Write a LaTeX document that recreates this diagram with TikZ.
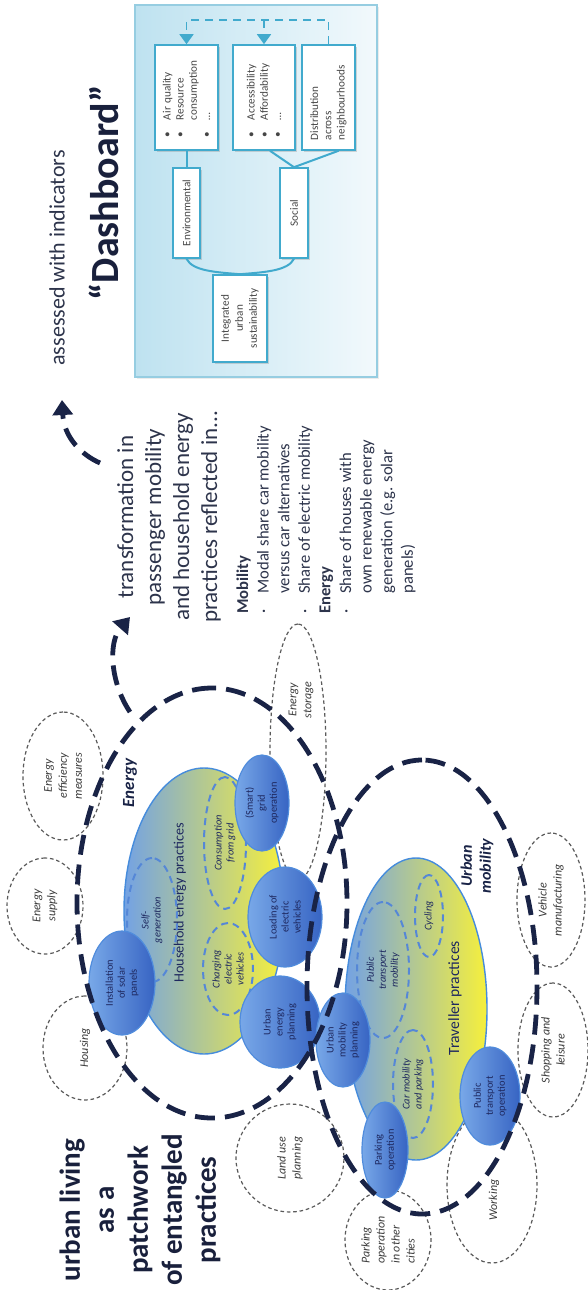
\documentclass[tikz,border=0pt]{standalone}
\usepackage{fontspec}
\setmainfont{Carlito}
\usetikzlibrary{shapes.geometric,arrows.meta,shadows}
\definecolor{navy}{RGB}{25,35,70}
\definecolor{titlec}{RGB}{25,32,60}
\definecolor{bodyc}{RGB}{45,52,75}
\definecolor{pracA}{RGB}{120,168,232}
\definecolor{pracB}{RGB}{55,100,195}
\definecolor{pracline}{RGB}{80,140,220}
\definecolor{pracText}{RGB}{30,40,95}
\definecolor{subblue}{RGB}{85,135,215}
\definecolor{hhBlue}{RGB}{115,162,228}
\definecolor{hhMid}{RGB}{172,205,210}
\definecolor{hhYellow}{RGB}{246,240,60}
\definecolor{hhLine}{RGB}{70,140,220}
\definecolor{txtgray}{RGB}{60,60,60}
\definecolor{grayline}{RGB}{90,90,90}
\definecolor{dbline}{RGB}{65,170,205}
\definecolor{dbtext}{RGB}{70,70,70}
\definecolor{dbframe}{RGB}{150,205,225}
\definecolor{dbA}{RGB}{190,226,240}
\definecolor{dbB}{RGB}{242,249,252}
\tikzset{
  grayell/.style={ellipse, draw=grayline, line width=0.6pt, dash pattern=on 1.8pt off 1.4pt, rotate=90, inner sep=0pt, align=center, font=\fontsize{6}{7.5}\selectfont\itshape, text=txtgray},
  practice/.style={ellipse, draw=pracline, line width=0.6pt, left color=pracA, right color=pracB, rotate=90, inner sep=0pt, align=center, font=\fontsize{5.2}{6}\selectfont, text=pracText},
  subell/.style={ellipse, draw=subblue, line width=1pt, dash pattern=on 3.5pt off 2.5pt, rotate=90, inner sep=0pt, align=center, font=\fontsize{5.2}{6}\selectfont\itshape, text=pracText},
  bigdash/.style={draw=navy, line width=2.4pt, dash pattern=on 10pt off 5pt},
  bigring/.style={ellipse, bigdash, rotate=90, inner sep=0pt},
  dbox/.style={rectangle, draw=dbline, fill=white, line width=0.8pt, rotate=90, inner sep=0pt, font=\fontsize{5.6}{6.6}\selectfont, text=dbtext, drop shadow={shadow xshift=1.2pt, shadow yshift=-1pt, opacity=0.3}},
  conn/.style={draw=dbline, line width=1pt},
  fbdash/.style={draw=dbline, line width=0.8pt, dash pattern=on 4pt off 3pt, -{Triangle[length=5pt,width=7pt]}},
  bigarrow/.style={bigdash, -{Triangle[length=7.5pt,width=10pt]}},
  lbl/.style={rotate=90, inner sep=0pt}
}
\newcommand{\bul}{\makebox[8.5pt][l]{•}}
\begin{document}
\begin{tikzpicture}[x=0.5pt,y=-0.5pt]
\useasboundingbox (0,0) rectangle (588,1290);
\fill[white] (0,0) rectangle (588,1290);

% ---------------- dashboard ----------------
\node[rectangle, draw=dbframe, line width=1.2pt, left color=dbA, right color=dbB, minimum width=121pt, minimum height=186pt, inner sep=0pt, drop shadow={shadow xshift=1pt, shadow yshift=-1pt, opacity=0.15}] (dash) at (256,191) {};
\node[dbox, minimum width=52.5pt, minimum height=31.5pt, text width=39.5pt, align=left] (aq) at (186.5,97.5)
  {\bul Air quality\\\bul Resource\\\hspace*{8.5pt}consumption\\\bul …};
\node[dbox, minimum width=52.5pt, minimum height=31pt, text width=39.5pt, align=left] (acc) at (264,97.5)
  {\bul Accessibility\\\bul Affordability\\\bul …};
\node[dbox, minimum width=52.5pt, minimum height=26.5pt, text width=42.5pt, align=left] (dist) at (328.5,97.5)
  {Distribution\\across\\neighbourhoods};
\node[dbox, minimum width=45pt, minimum height=13.5pt, align=center] (env) at (186.5,213) {Environmental};
\node[dbox, minimum width=45pt, minimum height=14pt, align=center] (soc) at (294,213) {Social};
\node[dbox, minimum width=43.5pt, minimum height=27pt, align=center, font=\fontsize{5.6}{7}\selectfont] (int) at (240,318.5) {Integrated\\urban\\sustainability};
\coordinate (fbline) at (0,20);
\draw[conn] (aq.west) -- (env.east);
\draw[conn] ([xshift=3pt]acc.west) -- (soc.east);
\draw[conn] ([xshift=5pt]dist.west) -- (soc.east);
\draw[conn] (env.west) .. controls +(6,12) and +(-25,-2) .. (int.east);
\draw[conn] (soc.west) .. controls +(-6,12) and +(25,-2) .. (int.east);
\draw[fbdash] (dist.east) -- (dist.east |- fbline) -- (aq.east |- fbline) -- (aq.east);
\draw[fbdash] (acc.east |- fbline) -- (acc.east);

% ---------------- text blocks ----------------
\node[lbl, font=\fontsize{11}{13}\selectfont, text=bodyc] (assess) at (57,258) {assessed with indicators};
\node[lbl, font=\fontsize{20}{22}\selectfont\bfseries, text=titlec] (dashtitle) at (104,193) {“Dashboard”};
\node[lbl, align=center, font=\fontsize{11.5}{14}\selectfont, text=bodyc] (trans) at (169,517)
  {transformation in\\passenger mobility\\and household energy\\practices reflected in...};
\node[lbl, anchor=north west, align=left, font=\fontsize{8.3}{10.3}\selectfont, text=bodyc] (ind) at (236,614)
  {\textbf{Mobility}\\\makebox[10pt][l]{·}Modal share car mobility\\\hspace*{10pt}versus car alternatives\\\makebox[10pt][l]{·}Share of electric mobility\\\textbf{Energy}\\\makebox[10pt][l]{·}Share of houses with\\\hspace*{10pt}own renewable energy\\\hspace*{10pt}generation (e.g. solar\\\hspace*{10pt}panels)};
\node[lbl, align=center, font=\fontsize{14.5}{17}\selectfont\bfseries, text=titlec] (urban) at (140,1210)
  {urban living\\as a\\patchwork\\of entangled\\practices};

% ---------------- gray dashed context ellipses ----------------
\node[grayell, minimum width=64pt, minimum height=40pt] (effic) at (63,776) {Energy\\efficiency\\measures};
\node[grayell, minimum width=48pt, minimum height=38pt] (supply) at (45,906) {Energy\\supply};
\node[grayell, minimum width=52pt, minimum height=42pt] (housing) at (85,1048) {Housing};
\node[grayell, minimum width=54pt, minimum height=54pt] (landuse) at (290,1158) {Land use\\planning};
\node[grayell, minimum width=50pt, minimum height=43pt, align=left] (parkother) at (388,1240) {Parking\\operation\\in other\\cities};
\node[grayell, minimum width=78pt, minimum height=45pt] (working) at (492,1185) {};
\node[lbl, font=\fontsize{6}{7.5}\selectfont\itshape, text=txtgray] (worktxt) at (494,1200) {Working};
\node[grayell, minimum width=67pt, minimum height=35pt] (shopping) at (553,1050) {Shopping and\\leisure};
\node[grayell, minimum width=67pt, minimum height=34pt] (vehicle) at (551,900) {Vehicle\\manufacturing};
\node[grayell, minimum width=128pt, minimum height=28pt] (storage) at (298,752) {};
\node[lbl, align=center, font=\fontsize{6}{7.5}\selectfont\itshape, text=txtgray] (storagetxt) at (301,700) {Energy\\storage};

% ---------------- practice clusters ----------------
\shade[left color=hhBlue, middle color=hhMid, right color=hhYellow, draw=hhLine, line width=0.7pt] (204,911) ellipse [x radius=80, y radius=143];
\shade[left color=hhBlue, middle color=hhMid, right color=hhYellow, draw=hhLine, line width=0.7pt] (416,1009) ellipse [x radius=71, y radius=151];
\node[lbl, font=\fontsize{7.1}{8}\selectfont, text=pracText] (hhtxt) at (180,903) {Household energy practices};
\node[lbl, font=\fontsize{7.8}{9}\selectfont, text=pracText] (trtxt) at (455,998) {Traveller practices};

\node[subell, minimum width=62pt, minimum height=25pt] (selfgen) at (152,920) {Self-\\generation};
\node[subell, minimum width=66pt, minimum height=21pt] (consum) at (225,843) {Consumption\\from grid};
\node[subell, minimum width=46pt, minimum height=25pt] (charging) at (228,969) {Charging\\electric\\vehicles};
\node[subell, minimum width=41pt, minimum height=14pt] (cycling) at (429,916) {Cycling};
\node[subell, minimum width=68pt, minimum height=26pt] (ptmob) at (383,970) {Public\\transport\\mobility};
\node[subell, minimum width=54pt, minimum height=20pt] (carmob) at (413,1084) {Car mobility\\and parking};

\node[practice, minimum width=52pt, minimum height=33pt] (solar) at (122,983) {Installation\\of solar\\panels};
\node[practice, minimum width=46pt, minimum height=40pt] (uep) at (280,1022) {Urban\\energy\\planning};
\node[practice, minimum width=50pt, minimum height=37pt] (loading) at (285,917) {Loading of\\electric\\vehicles};
\node[practice, minimum width=48pt, minimum height=27pt] (grid) at (262,803) {(Smart)\\grid\\operation};
\node[practice, minimum width=47pt, minimum height=27pt] (ump) at (343,1040) {Urban\\mobility\\planning};
\node[practice, minimum width=48pt, minimum height=23pt] (parking) at (385,1150) {Parking\\operation};
\node[practice, minimum width=49pt, minimum height=30pt] (pto) at (490,1096) {Public\\transport\\operation};

% ---------------- big dashed domains ----------------
\node[bigring, minimum width=215pt, minimum height=135pt] (energyC) at (212,903) {};
\node[bigring, minimum width=227pt, minimum height=115pt] (mobC) at (422,987) {};
\node[lbl, font=\fontsize{8.5}{10}\selectfont\bfseries\itshape, text=navy] (energylbl) at (130,783) {Energy};
\node[lbl, align=center, font=\fontsize{8}{9.5}\selectfont\bfseries\itshape, text=navy] (moblbl) at (477,866) {Urban\\mobility};

% ---------------- arrows ----------------
\coordinate (a1s) at (100,463);
\coordinate (a1e) at (62,400);
\draw[bigarrow] (a1s) .. controls (82,455) and (64,438) .. (a1e);
\coordinate (a2s) at (130,712);
\coordinate (a2e) at (130,617);
\draw[bigarrow] (a2s) .. controls (110,682) and (108,642) .. (a2e);
\end{tikzpicture}
\end{document}
